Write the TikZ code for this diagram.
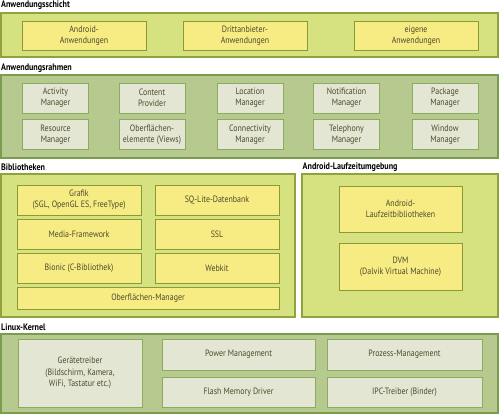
\documentclass[tikz,border=0pt]{standalone}
\usepackage{fontspec}
\setmainfont{PT Sans}[FakeStretch=0.86]
\definecolor{lgfill}{HTML}{D6E17F}
\definecolor{lgdraw}{HTML}{8FA23E}
\definecolor{yfill}{HTML}{F7EC84}
\definecolor{ydraw}{HTML}{8A9A34}
\definecolor{sgfill}{HTML}{B6C98F}
\definecolor{sgdraw}{HTML}{7B9C4C}
\definecolor{gfill}{HTML}{E4E6D4}
\definecolor{gdraw}{HTML}{8CAB5E}
\definecolor{txt}{HTML}{4B4A2A}
\tikzset{
  layerA/.style={draw=lgdraw, fill=lgfill, line width=1.4pt, inner sep=0pt},
  layerB/.style={draw=sgdraw, fill=sgfill, line width=1.4pt, inner sep=0pt},
  ybox/.style={draw=ydraw, fill=yfill, line width=0.9pt, inner sep=0pt, align=center, font=\fontsize{9.2}{11.3}\selectfont, text=txt},
  gbox/.style={draw=gdraw, fill=gfill, line width=0.9pt, inner sep=0pt, align=center, font=\fontsize{9.2}{11.3}\selectfont, text=txt},
  ltitle/.style={anchor=west, inner sep=0pt, font=\bfseries\fontsize{9.4}{11}\selectfont, text=black},
}
\begin{document}
\begin{tikzpicture}[x=1pt,y=-1pt]
\useasboundingbox (0,0) rectangle (500,414);
% Layer 1
\node[ltitle] (t1) at (1,5.5) {Anwendungsschicht};
\node[layerA, minimum width=497pt, minimum height=44pt] (L1) at (249.5,35) {};
\node[ybox, minimum width=124pt, minimum height=29pt] (a1) at (84,35.5) {Android-\\Anwendungen};
\node[ybox, minimum width=124pt, minimum height=29pt] (a2) at (245,35.5) {Drittanbieter-\\Anwendungen};
\node[ybox, minimum width=124pt, minimum height=29pt] (a3) at (416,35.5) {eigene\\Anwendungen};
% Layer 2
\node[ltitle] (t2) at (1,68) {Anwendungsrahmen};
\node[layerB, minimum width=497pt, minimum height=83pt] (L2) at (249.5,116.5) {};
\begin{scope}[every node/.append style={gbox, minimum width=66pt, minimum height=30pt}]
\node (f1) at (55.5,98) {Activity\\Manager};
\node (f2) at (152,98) {Content\\Provider};
\node (f3) at (250,98) {Location\\Manager};
\node (f4) at (346.5,98) {Notification\\Manager};
\node (f5) at (445,98) {Package\\Manager};
\node (f6) at (55.5,134.5) {Resource\\Manager};
\node (f7) at (152,134.5) {Oberflächen-\\elemente (Views)};
\node (f8) at (250,134.5) {Connectivity\\Manager};
\node (f9) at (346.5,134.5) {Telephony\\Manager};
\node (f10) at (445,134.5) {Window\\Manager};
\end{scope}
% Layer 3 left
\node[ltitle] (t3) at (1,167) {Bibliotheken};
\node[layerA, minimum width=294pt, minimum height=143pt] (L3) at (148,245.5) {};
\begin{scope}[every node/.append style={ybox, minimum width=124pt, minimum height=30pt}]
\node (b1) at (79,200) {Grafik\\(SGL, OpenGL ES, FreeType)};
\node (b2) at (217,200) {SQ-Lite-Datenbank};
\node (b3) at (79,234) {Media-Framework};
\node (b4) at (217,234) {SSL};
\node (b5) at (79,268) {Bionic (C-Bibliothek)};
\node (b6) at (217,268) {Webkit};
\end{scope}
\node[ybox, minimum width=262pt, minimum height=22pt] (b7) at (148,298) {Oberflächen-Manager};
% Layer 3 right
\node[ltitle] (t4) at (302.5,167) {Android-Laufzeitumgebung};
\node[layerA, minimum width=196pt, minimum height=143pt] (L3r) at (400,245.5) {};
\node[ybox, minimum width=123pt, minimum height=46pt] (r1) at (400.5,209) {Android-\\Laufzeitbibliotheken};
\node[ybox, minimum width=123pt, minimum height=47pt] (r2) at (400.5,266.5) {DVM\\(Dalvik Virtual Machine)};
% Layer 4
\node[ltitle] (t5) at (1,327) {Linux-Kernel};
\node[layerB, minimum width=497pt, minimum height=79pt] (L4) at (249.5,373.5) {};
\node[gbox, minimum width=124pt, minimum height=68pt] (k1) at (80,373) {Gerätetreiber\\(Bildschirm, Kamera,\\WiFi, Tastatur etc.)};
\node[gbox, minimum width=153pt, minimum height=31pt] (k2) at (238.5,354.5) {Power Management};
\node[gbox, minimum width=153pt, minimum height=30pt] (k3) at (238.5,392) {Flash Memory Driver};
\node[gbox, minimum width=155pt, minimum height=31pt] (k4) at (404.5,354.5) {Prozess-Management};
\node[gbox, minimum width=155pt, minimum height=30pt] (k5) at (404.5,392) {IPC-Treiber (Binder)};
\end{tikzpicture}
\end{document}
